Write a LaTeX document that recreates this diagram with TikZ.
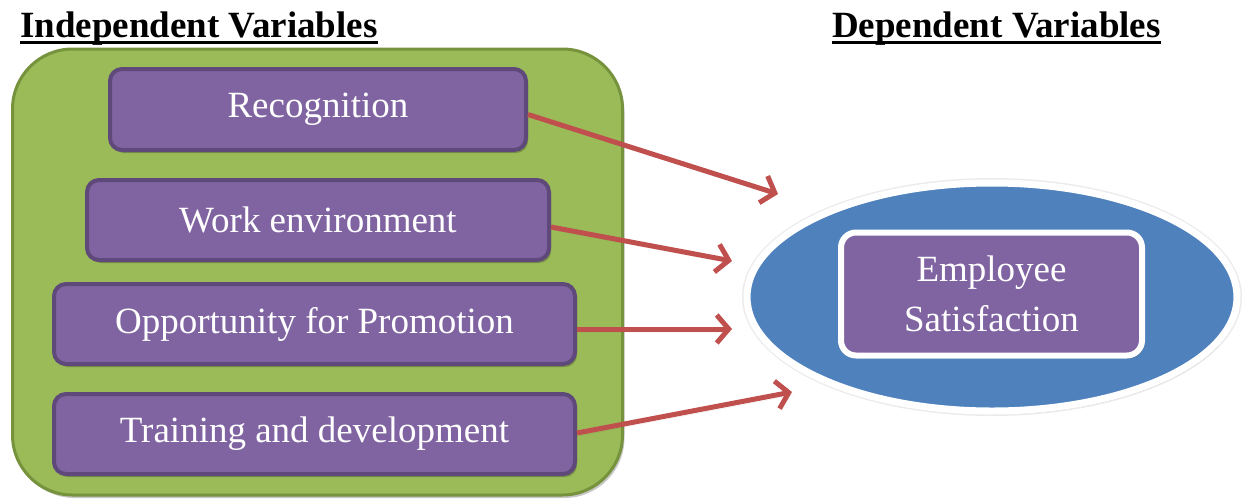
\documentclass[tikz,border=0pt]{standalone}
\usepackage{fontspec}
\setmainfont{Liberation Serif}
\usetikzlibrary{arrows.meta,shadows}
\definecolor{grfill}{HTML}{9BBB59}
\definecolor{grline}{HTML}{76923C}
\definecolor{pufill}{HTML}{8064A2}
\definecolor{puline}{HTML}{5F497A}
\definecolor{blfill}{HTML}{4F81BD}
\definecolor{redarr}{HTML}{C0504D}
\tikzset{
  softshadow/.style={drop shadow={shadow xshift=2pt,shadow yshift=-3pt,opacity=0.22,fill=black}},
  varbox/.style={draw=puline,fill=pufill,line width=4pt,rounded corners=12pt,
    text=white,font=\fontsize{37}{44}\selectfont,inner sep=0pt,softshadow},
  heading/.style={anchor=base west,inner sep=0pt,font=\fontsize{37}{44}\selectfont\bfseries},
  headrule/.style={line width=3pt},
  link/.style={draw=redarr,line width=5pt,
    -{Straight Barb[length=12pt,width=28pt,line width=5pt]},softshadow},
}
\begin{document}
\begin{tikzpicture}[x=1pt,y=-1pt]
\useasboundingbox (0,0) rectangle (1243,499);

% headings, underlined with a heavy rule
\node[heading] (indep) at (20,37) {Independent Variables};
\node[heading] (dep) at (832,37) {Dependent Variables};
\draw[headrule] ([yshift=3pt]indep.south west) -- ([yshift=3pt]indep.south east);
\draw[headrule] ([yshift=3pt]dep.south west) -- ([yshift=3pt]dep.south east);

% green panel holding the independent variables
\node[draw=grline,fill=grfill,line width=3pt,rounded corners=60pt,
  minimum width=610pt,minimum height=446pt,softshadow] (panel) at (317.5,272) {};

% independent variables
\node[varbox,minimum width=416pt,minimum height=81pt] (rec) at (318,109.5) {Recognition};
\node[varbox,minimum width=462pt,minimum height=80pt] (work) at (318,220) {Work environment};
\node[varbox,minimum width=521pt,minimum height=80pt] (prom) at (314.5,324) {Opportunity for Promotion};
\node[varbox,minimum width=521pt,minimum height=80pt] (train) at (314.5,434) {Training and development};

% dependent variable: blue ellipse with a white rim and a faint halo
\draw[draw=black!8,line width=2pt] (992,297) ellipse [x radius=249pt,y radius=118pt];
\draw[draw=white,fill=blfill,line width=7pt,softshadow] (992,297) ellipse [x radius=245pt,y radius=114pt];
\node[draw=white,fill=pufill,line width=6pt,rounded corners=15pt,minimum width=301pt,
  minimum height=123pt,text=white,align=center,inner sep=0pt,
  font=\fontsize{37}{50}\selectfont,softshadow] (sat) at (991.5,294) {Employee\\Satisfaction};

% arrow targets
\coordinate (t1) at (778,194);
\coordinate (t2) at (732,261);
\coordinate (t3) at (732,329);
\coordinate (t4) at (792,392);

\draw[link] ([yshift=-5pt]rec.east) -- (t1);
\draw[link] ([yshift=-7pt]work.east) -- (t2);
\draw[link] ([yshift=-5pt]prom.east) -- (t3);
\draw[link] ([yshift=1pt]train.east) -- (t4);
\end{tikzpicture}
\end{document}
